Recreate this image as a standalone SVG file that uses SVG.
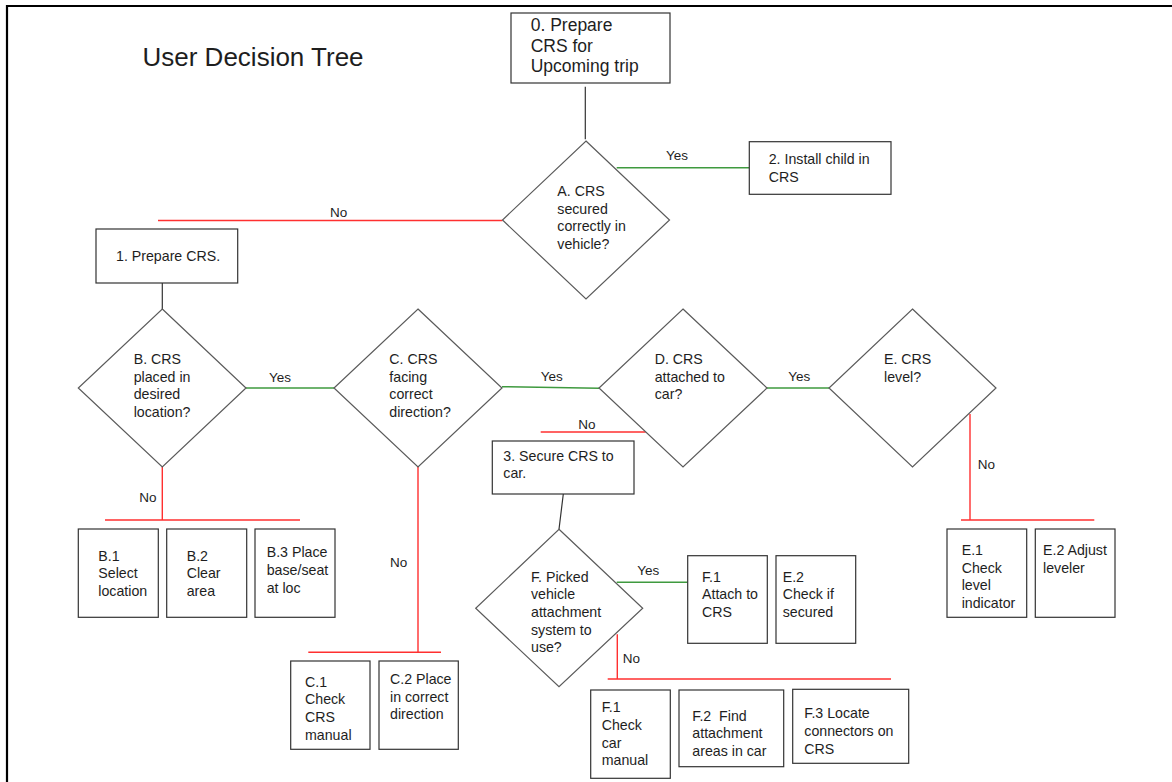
<svg xmlns="http://www.w3.org/2000/svg" width="1172" height="782" viewBox="0 0 1172 782">
<style>
text{font-family:"Liberation Sans",Arial,sans-serif;fill:#1e1e1e}
.t{font-size:14.2px}
.lbl{font-size:13.5px}
.box{fill:#fff;stroke:#333;stroke-width:1.2}
.dia{fill:#fff;stroke:#5a5a5a;stroke-width:1.2}
.dark{stroke:#333;stroke-width:1.2;fill:none}
.red{stroke:#ff3030;stroke-width:1.4;fill:none}
.green{stroke:#3f9a3f;stroke-width:1.5;fill:none}
</style>
<rect width="1172" height="782" fill="#fff"/>
<g id="frame"><path d="M6 6H1172M7 5V782" stroke="#000" stroke-width="2.2" fill="none"/></g>
<text id="title" x="142.5" y="65.7" style="font-size:26px">User Decision Tree</text>

<g id="connectors">
<path class="dark" d="M585.3 86.7V139.3M162.3 283V309M563.3 494L559 529.3"/>
<path class="green" d="M616.7 167.7H749.3M246 388H334M502 386.7L599.3 388.3M767 388H829M616.7 582.3H687.7"/>
<path class="red" d="M502.5 220.5H158M645.7 432H540.7M162.3 467V520M105 520H300M418 467V652.3M308.3 652.3H441M970 414V520M961 520H1094.3M617.3 634.3V679M607.7 679H891"/>
<text class="lbl" x="666" y="160">Yes</text>
<text class="lbl" x="330" y="216.5">No</text>
<text class="lbl" x="269" y="381.7">Yes</text>
<text class="lbl" x="540.7" y="381">Yes</text>
<text class="lbl" x="788.3" y="381">Yes</text>
<text class="lbl" x="578.3" y="429.3">No</text>
<text class="lbl" x="139.3" y="502.3">No</text>
<text class="lbl" x="390" y="566.7">No</text>
<text class="lbl" x="977.7" y="469.3">No</text>
<text class="lbl" x="637.3" y="575">Yes</text>
<text class="lbl" x="622.7" y="662.7">No</text>
</g>

<g id="n0"><rect class="box" x="511" y="13" width="159" height="70"/>
<text style="font-size:17.5px"><tspan x="530.7" y="30.7">0. Prepare</tspan><tspan x="530.7" y="51.5">CRS for</tspan><tspan x="530.7" y="72.3">Upcoming trip</tspan></text></g>

<g id="nA"><polygon class="dia" points="586,141 669.5,220 586,299 502.5,220"/>
<text class="t"><tspan x="557.3" y="196">A. CRS</tspan><tspan x="557.3" y="213.5">secured</tspan><tspan x="557.3" y="231">correctly in</tspan><tspan x="557.3" y="248.5">vehicle?</tspan></text></g>

<g id="n2"><rect class="box" x="749.3" y="141.7" width="141.7" height="52.6"/>
<text class="t"><tspan x="768.7" y="164">2. Install child in</tspan><tspan x="768.7" y="181.7">CRS</tspan></text></g>

<g id="n1"><rect class="box" x="96" y="229" width="141.7" height="54"/>
<text class="t" x="116" y="261">1. Prepare CRS.</text></g>

<g id="nB"><polygon class="dia" points="162.3,309 246,388 162.3,467 78.3,388"/>
<text class="t"><tspan x="133.7" y="364">B. CRS</tspan><tspan x="133.7" y="381.7">placed in</tspan><tspan x="133.7" y="399.3">desired</tspan><tspan x="133.7" y="417">location?</tspan></text></g>

<g id="nC"><polygon class="dia" points="418,309 502,388 418,467 334,388"/>
<text class="t"><tspan x="389.3" y="364">C. CRS</tspan><tspan x="389.3" y="381.7">facing</tspan><tspan x="389.3" y="399.3">correct</tspan><tspan x="389.3" y="417">direction?</tspan></text></g>

<g id="nD"><polygon class="dia" points="683,309 767,388 683,467 599,388"/>
<text class="t"><tspan x="654.7" y="364">D. CRS</tspan><tspan x="654.7" y="381.7">attached to</tspan><tspan x="654.7" y="399.3">car?</tspan></text></g>

<g id="nE"><polygon class="dia" points="912.5,309 996,388 912.5,467 829,388"/>
<text class="t"><tspan x="884" y="364">E. CRS</tspan><tspan x="884" y="381.7">level?</tspan></text></g>

<g id="nB1"><rect class="box" x="78.3" y="529" width="80" height="88.3"/>
<text class="t"><tspan x="98.3" y="560.7">B.1</tspan><tspan x="98.3" y="578.3">Select</tspan><tspan x="98.3" y="596">location</tspan></text></g>

<g id="nB2"><rect class="box" x="166.7" y="529" width="80" height="88.3"/>
<text class="t"><tspan x="186.7" y="560.7">B.2</tspan><tspan x="186.7" y="578.3">Clear</tspan><tspan x="186.7" y="596">area</tspan></text></g>

<g id="nB3"><rect class="box" x="255" y="529" width="80" height="88.3"/>
<text class="t"><tspan x="266.7" y="557.3">B.3 Place</tspan><tspan x="266.7" y="575">base/seat</tspan><tspan x="266.7" y="592.7">at loc</tspan></text></g>

<g id="nC1"><rect class="box" x="290.7" y="661" width="79.3" height="88.3"/>
<text class="t"><tspan x="305" y="686.7">C.1</tspan><tspan x="305" y="704.3">Check</tspan><tspan x="305" y="722">CRS</tspan><tspan x="305" y="739.7">manual</tspan></text></g>

<g id="nC2"><rect class="box" x="379" y="661" width="79.3" height="88.3"/>
<text class="t"><tspan x="390" y="684">C.2 Place</tspan><tspan x="390" y="701.7">in correct</tspan><tspan x="390" y="719.3">direction</tspan></text></g>

<g id="n3"><rect class="box" x="492.3" y="441" width="141.7" height="53"/>
<text class="t"><tspan x="503.3" y="460.7">3. Secure CRS to</tspan><tspan x="503.3" y="478.3">car.</tspan></text></g>

<g id="nF"><polygon class="dia" points="559,529.3 642.7,608.3 559,686.7 475.7,608.3"/>
<text class="t"><tspan x="531" y="581.7">F. Picked</tspan><tspan x="531" y="599.3">vehicle</tspan><tspan x="531" y="617">attachment</tspan><tspan x="531" y="634.7">system to</tspan><tspan x="531" y="652.3">use?</tspan></text></g>

<g id="nF1a"><rect class="box" x="687.7" y="555.7" width="79.6" height="87.6"/>
<text class="t"><tspan x="702" y="581.7">F.1</tspan><tspan x="702" y="599.3">Attach to</tspan><tspan x="702" y="617">CRS</tspan></text></g>

<g id="nE2a"><rect class="box" x="776" y="555.7" width="79.7" height="87.6"/>
<text class="t"><tspan x="782.7" y="581.7">E.2</tspan><tspan x="782.7" y="599.3">Check if</tspan><tspan x="782.7" y="617">secured</tspan></text></g>

<g id="nF1b"><rect class="box" x="590.7" y="690" width="79.6" height="88.3"/>
<text class="t"><tspan x="601.7" y="712.3">F.1</tspan><tspan x="601.7" y="730">Check</tspan><tspan x="601.7" y="747.7">car</tspan><tspan x="601.7" y="765.3">manual</tspan></text></g>

<g id="nF2"><rect class="box" x="679" y="690" width="104.7" height="76.7"/>
<text class="t"><tspan x="692.3" y="720.7">F.2&#160; Find</tspan><tspan x="692.3" y="738.3">attachment</tspan><tspan x="692.3" y="756">areas in car</tspan></text></g>

<g id="nF3"><rect class="box" x="792.7" y="689.3" width="116" height="74"/>
<text class="t"><tspan x="804.3" y="718.3">F.3 Locate</tspan><tspan x="804.3" y="736">connectors on</tspan><tspan x="804.3" y="753.7">CRS</tspan></text></g>

<g id="nE1"><rect class="box" x="947" y="529" width="79.7" height="88.3"/>
<text class="t"><tspan x="961.7" y="555">E.1</tspan><tspan x="961.7" y="572.7">Check</tspan><tspan x="961.7" y="590.3">level</tspan><tspan x="961.7" y="608">indicator</tspan></text></g>

<g id="nE2b"><rect class="box" x="1035.3" y="529" width="79.7" height="88.3"/>
<text class="t"><tspan x="1043" y="555">E.2 Adjust</tspan><tspan x="1043" y="572.7">leveler</tspan></text></g>
</svg>
